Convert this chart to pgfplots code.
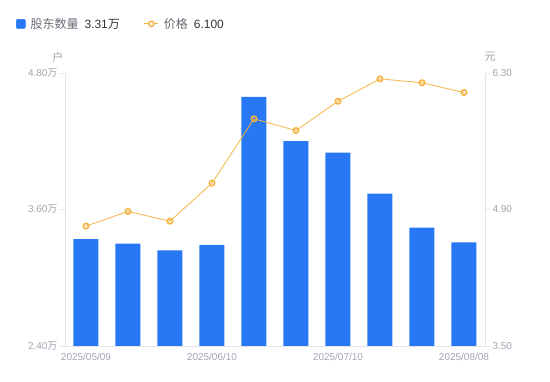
\documentclass[border=0pt]{standalone}
\usepackage{pgfplots}
\pgfplotsset{compat=1.18}
\usepackage{fontspec}
\setmainfont{Liberation Sans}
\newfontfamily\cjk{Noto Sans CJK SC}
\definecolor{bblue}{HTML}{2878F5}
\definecolor{oorange}{HTML}{F6B343}
\definecolor{tgray}{HTML}{A0A4B0}
\definecolor{agray}{HTML}{E3E5EA}
\definecolor{lgray}{HTML}{666A73}
\definecolor{dgray}{HTML}{333333}
\begin{document}
\begin{tikzpicture}
\useasboundingbox (0,0) rectangle (550pt,381pt);
\begin{axis}[
  at={(65pt,35pt)}, anchor=south west,
  scale only axis, width=420pt, height=273pt, clip=false,
  xmin=-0.5, xmax=9.5, ymin=2.4, ymax=4.8,
  axis x line*=bottom, axis y line*=left,
  axis line style={agray, line width=0.8pt},
  xtick={0,3,6,9},
  xticklabels={2025/05/09,2025/06/10,2025/07/10,2025/08/08},
  x tick style={draw=none},
  ytick={2.4,3.6,4.8},
  yticklabels={2.40{\cjk 万},3.60{\cjk 万},4.80{\cjk 万}},
  y tick style={agray, line width=0.8pt},
  tick align=outside, major tick length=5pt,
  ticklabel style={font=\fontsize{10}{12}\selectfont, text=tgray},
  xticklabel style={yshift=1pt},
  yticklabel style={xshift=1pt},
  ybar, bar width=25pt,
  legend style={at={(rel axis cs:-0.124,1.18)}, anchor=west, draw=none, fill=none,
    legend columns=2, font=\fontsize{12}{14}\selectfont,
    /tikz/every even column/.append style={column sep=22pt}},
  legend cell align=left,
]
\addplot[fill=bblue, draw=none, forget plot, bar shift=0pt] coordinates {
(0,3.34) (1,3.30) (2,3.24) (3,3.29) (4,4.59) (5,4.20) (6,4.10) (7,3.74) (8,3.44) (9,3.31)};
\addlegendimage{legend image code/.code={\fill[bblue, rounded corners=1pt] (0pt,-4.5pt) rectangle (9pt,4.5pt);}}
\addlegendentry{\hspace{3pt}\textcolor{lgray}{\cjk 股东数量}\hspace{6pt}\textcolor{dgray}{3.31{\cjk 万}}}
\addlegendimage{legend image code/.code={\draw[oorange, line width=1pt] (-1pt,0pt) -- (13pt,0pt); \draw[oorange, fill=white, line width=1.5pt] (6pt,0pt) circle (2.6pt);}}
\addlegendentry{\hspace{3pt}\textcolor{lgray}{\cjk 价格}\hspace{6pt}\textcolor{dgray}{6.100}}
\node[text=tgray, font=\cjk\fontsize{11}{13}\selectfont] at (rel axis cs:-0.017,1.058) {户};
\end{axis}
\begin{axis}[
  at={(65pt,35pt)}, anchor=south west,
  scale only axis, width=420pt, height=273pt, clip=false,
  xmin=-0.5, xmax=9.5, ymin=3.5, ymax=6.3,
  axis x line=none, axis y line*=right,
  axis line style={agray, line width=0.8pt},
  ytick={3.5,4.9,6.3},
  yticklabels={3.50,4.90,6.30},
  y tick style={agray, line width=0.8pt},
  tick align=outside, major tick length=5pt,
  ticklabel style={font=\fontsize{10}{12}\selectfont, text=tgray},
  yticklabel style={xshift=-1pt},
]
\addplot[oorange, line width=0.8pt, mark=o, mark size=2.7pt,
  mark options={fill=white, line width=1.6pt}] coordinates {
(0,4.73) (1,4.88) (2,4.78) (3,5.17) (4,5.83) (5,5.71) (6,6.01) (7,6.24) (8,6.20) (9,6.10)};
\node[text=tgray, font=\cjk\fontsize{11}{13}\selectfont] at (rel axis cs:1.012,1.058) {元};
\end{axis}
\end{tikzpicture}
\end{document}
